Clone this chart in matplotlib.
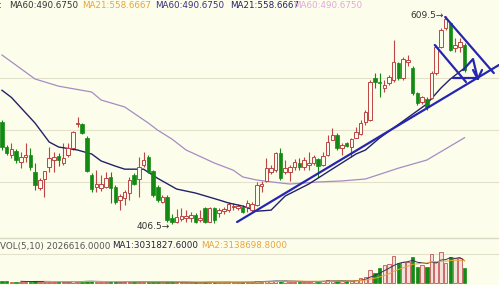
import matplotlib.pyplot as plt
import numpy as np

# daily candles (price), left to right
opens = [506, 482, 474, 478, 467, 472, 474, 457, 442, 451,
         462, 469, 473, 466, 474, 481, 504, 504, 490, 454,
         443, 442, 443, 452, 443, 430, 432, 437, 454, 451,
         464, 472, 458, 443, 428, 433, 412, 409, 412, 413,
         413, 415, 411, 422, 409, 422, 417, 419, 420, 423,
         422, 423, 423, 420, 425, 444, 449, 457, 459, 476,
         457, 457, 462, 466, 462, 464, 466, 470, 464, 474,
         489, 493, 481, 486, 482, 491, 495, 506, 508, 549,
         545, 539, 544, 547, 564, 549, 565, 559, 534, 526,
         528, 530, 554, 579, 598, 603, 578, 579, 581]
highs = [508, 484, 486, 480, 477, 486, 481, 466, 451, 458,
         482, 477, 476, 486, 486, 497, 511, 505, 492, 456,
         459, 454, 457, 457, 445, 436, 440, 452, 456, 472,
         477, 474, 459, 445, 435, 435, 416, 421, 422, 420,
         418, 417, 420, 423, 423, 423, 422, 423, 428, 427,
         426, 425, 430, 428, 447, 448, 471, 464, 477, 481,
         469, 464, 470, 471, 472, 477, 474, 471, 477, 493,
         500, 495, 486, 487, 490, 501, 508, 518, 547, 554,
         554, 547, 552, 586, 565, 569, 571, 561, 535, 531,
         530, 556, 581, 598, 609.5, 604, 588, 588, 583]
lows = [479, 474, 471, 466, 461, 467, 459, 440, 440, 433,
        457, 457, 463, 464, 472, 479, 501, 494, 457, 438,
        438, 439, 442, 427, 426, 420, 425, 430, 445, 433,
        462, 456, 433, 428, 427, 408, 406.5, 407.5, 409, 408,
        408, 407.5, 408, 407.5, 408, 407.5, 413, 416, 418, 420,
        420, 417, 418, 418, 424, 438, 447, 455, 457, 449,
        455, 448, 459, 459, 459, 459, 464, 452, 463, 473,
        488, 479, 474, 482, 472, 490, 493, 503, 507, 539,
        530, 535, 542, 545, 547, 547, 561, 532, 523, 524,
        518, 528, 552, 578, 596, 575, 574, 574, 555]
closes = [482, 476, 479, 469, 472, 474, 462, 445, 449, 458,
          471, 472, 469, 471, 480, 496, 505, 495, 458, 441,
          445, 445, 451, 442, 428, 434, 438, 449, 446, 462,
          469, 457, 435, 430, 433, 410, 408, 413, 414, 414,
          415, 408, 412, 408, 422, 410, 420, 421, 426, 424,
          424, 418, 427, 426, 444, 445, 461, 461, 476, 451,
          461, 462, 467, 462, 469, 466, 472, 463, 473, 486,
          493, 481, 483, 483, 489, 496, 505, 516, 545, 545,
          544, 542, 550, 564, 549, 567, 566, 534, 525, 530,
          521, 554, 579, 596, 606, 576, 581, 584, 557]
# volume in millions
volumes = [0.3, 0.25, 0.2, 0.2, 0.2, 0.2, 0.2, 0.25, 0.2, 0.2,
           0.2, 0.15, 0.15, 0.15, 0.2, 0.25, 0.2, 0.2, 0.3, 0.25,
           0.15, 0.15, 0.15, 0.2, 0.2, 0.15, 0.15, 0.2, 0.15, 0.2,
           0.15, 0.15, 0.2, 0.15, 0.1, 0.2, 0.15, 0.1, 0.1, 0.1,
           0.1, 0.1, 0.1, 0.15, 0.15, 0.1, 0.1, 0.1, 0.15, 0.1,
           0.1, 0.1, 0.15, 0.15, 0.3, 0.2, 0.3, 0.25, 0.3, 0.3,
           0.25, 0.2, 0.2, 0.2, 0.2, 0.2, 0.25, 0.2, 0.3, 0.35,
           0.3, 0.3, 0.25, 0.25, 0.3, 0.4, 0.7, 0.8, 1.8, 1.3,
           2.0, 2.4, 2.5, 3.6, 2.7, 2.8, 2.8, 3.5, 2.2, 2.4,
           2.2, 3.9, 2.8, 4.2, 2.7, 3.5, 3.4, 3.4, 2.03]

# moving averages (candle index, value)
ma21_idx = [0, 2, 7, 10, 12, 16, 19, 21, 24, 26, 30, 33, 37, 41, 46, 48, 51, 54, 57,
            60, 65, 70, 75, 77, 80, 85, 90, 93, 95, 98]
ma21_val = [537, 530, 505, 486.5, 481.6, 478.7, 474.8, 468, 463, 460, 460, 451, 440.6,
            436.7, 429.9, 427, 424, 419, 420, 433.8, 445.5, 460.2, 474.8, 478.7, 490.4,
            507, 523.6, 539.2, 548, 558.7]
ma60_idx = [0, 7, 12, 19, 21, 26, 31, 33, 36, 39, 45, 49, 51, 54, 59, 61, 67, 72, 77,
            84, 90, 98]
ma60_val = [571.4, 548, 541, 535.3, 527.5, 520.7, 505, 498, 489.4, 478.7, 466, 459,
            452.4, 449.4, 446.5, 445.5, 447.5, 448.5, 450.4, 461, 468.9, 490.7]

# hand-drawn lines on the chart (candle index, price)
trend_up = ([49.8, 105.3], [408.4, 561.7])
down_a = ([93.9, 104.2], [608.5, 553.8])
down_b = ([91.7, 98.3], [581.2, 545.1])
flat = ([95.6, 100.8], [549.0, 549.0])
zigzag = ([97.7, 99.8, 100.8], [556.8, 567.5, 548.0])
arrow_head = ([99.8, 100.8, 101.7], [556.8, 548.0, 556.8])

grid_prices = [549.0, 498.2, 447.5]

bg = '#FDFDEB'
red = '#BC4545'
green = '#138A13'
navy = '#22226A'
purple = '#A58CC4'
pen = '#2626B0'

fig = plt.figure(figsize=(4.99, 2.85), dpi=100, facecolor=bg)
ax = fig.add_axes([0, 48 / 285, 1, 237 / 285])
vax = fig.add_axes([0, 0, 1, 47 / 285])
for a in (ax, vax):
    a.set_facecolor(bg)
    a.set_axis_off()

x = np.arange(len(opens))
o = np.array(opens)
c = np.array(closes)
up = c >= o
bw = 0.74

for g in grid_prices:
    ax.axhline(g, color='#E4E1CB', lw=0.8, zorder=0)

ax.vlines(x, lows, highs, colors=np.where(up, red, green), lw=0.8, zorder=1)
ax.bar(x[up], (c - o)[up] + 0.4, bottom=o[up] - 0.2, width=bw,
       facecolor=bg, edgecolor=red, lw=0.7, zorder=2)
ax.bar(x[~up], (o - c)[~up], bottom=c[~up], width=bw,
       facecolor=green, edgecolor=green, lw=0.5, zorder=2)

ax.plot(ma60_idx, ma60_val, color=purple, lw=0.9, zorder=1.5)
ax.plot(ma21_idx, ma21_val, color=navy, lw=1.0, zorder=1.5)

for xs, ys in (trend_up, down_a, down_b, flat, zigzag, arrow_head):
    ax.plot(xs, ys, color=pen, lw=1.6, solid_capstyle='round', zorder=3)

hi = int(np.argmax(highs))
lo = int(np.argmin(lows))
ax.text(hi - 0.4, highs[hi], '609.5\u2192', ha='right', va='center',
        fontsize=6.5, color='#333333')
ax.text(lo - 0.4, lows[lo] - 2, '406.5\u2192', ha='right', va='center',
        fontsize=6.5, color='#333333')

ax.set_xlim(-0.424, 105.3)
ax.set_ylim(393.8, 625.1)

# volume panel
v = np.array(volumes)
vax.axhline(3.92, color='#E4E1CB', lw=0.8, zorder=0)
vax.bar(x[up], v[up], width=bw, facecolor='#F4E2DA', edgecolor='#C86A6A', lw=0.7, zorder=2)
vax.bar(x[~up], v[~up], width=bw, facecolor=green, edgecolor=green, lw=0.5, zorder=2)
ma5 = np.convolve(v, np.ones(5) / 5, mode='valid')
ma10 = np.convolve(v, np.ones(10) / 10, mode='valid')
vax.plot(x[4:], ma5, color='#333355', lw=0.7, zorder=3)
vax.plot(x[9:], ma10, color='#E8A53A', lw=0.7, zorder=3)
vax.set_xlim(-0.424, 105.3)
vax.set_ylim(-0.27, 6.08)

fig.add_artist(plt.Line2D([0, 1], [1 - 237.5 / 285] * 2, color='#DCD9C2', lw=1.0))

# header lines
hy = 1 - 6 / 285
fs = 6.3
fig.text(-0.002, hy, ':', fontsize=fs, color='#333333', va='center')
fig.text(9 / 499, hy, 'MA60:490.6750', fontsize=fs, color='#333333', va='center')
fig.text(82 / 499, hy, 'MA21:558.6667', fontsize=fs, color='#E8A53A', va='center')
fig.text(155 / 499, hy, 'MA60:490.6750', fontsize=fs, color='#3C2F7E', va='center')
fig.text(230 / 499, hy, 'MA21:558.6667', fontsize=fs, color='#22226A', va='center')
fig.text(293 / 499, hy, 'MA60:490.6750', fontsize=fs, color='#E2A8E2', va='center')

vy = 1 - 246 / 285
fig.text(0, vy, 'VOL(5,10) 2026616.0000', fontsize=fs, color='#555555', va='center')
fig.text(112 / 499, vy, 'MA1:3031827.6000', fontsize=fs, color='#22223A', va='center')
fig.text(201 / 499, vy, 'MA2:3138698.8000', fontsize=fs, color='#E8A53A', va='center')

fig.savefig('out.png', dpi=100, facecolor=bg)
